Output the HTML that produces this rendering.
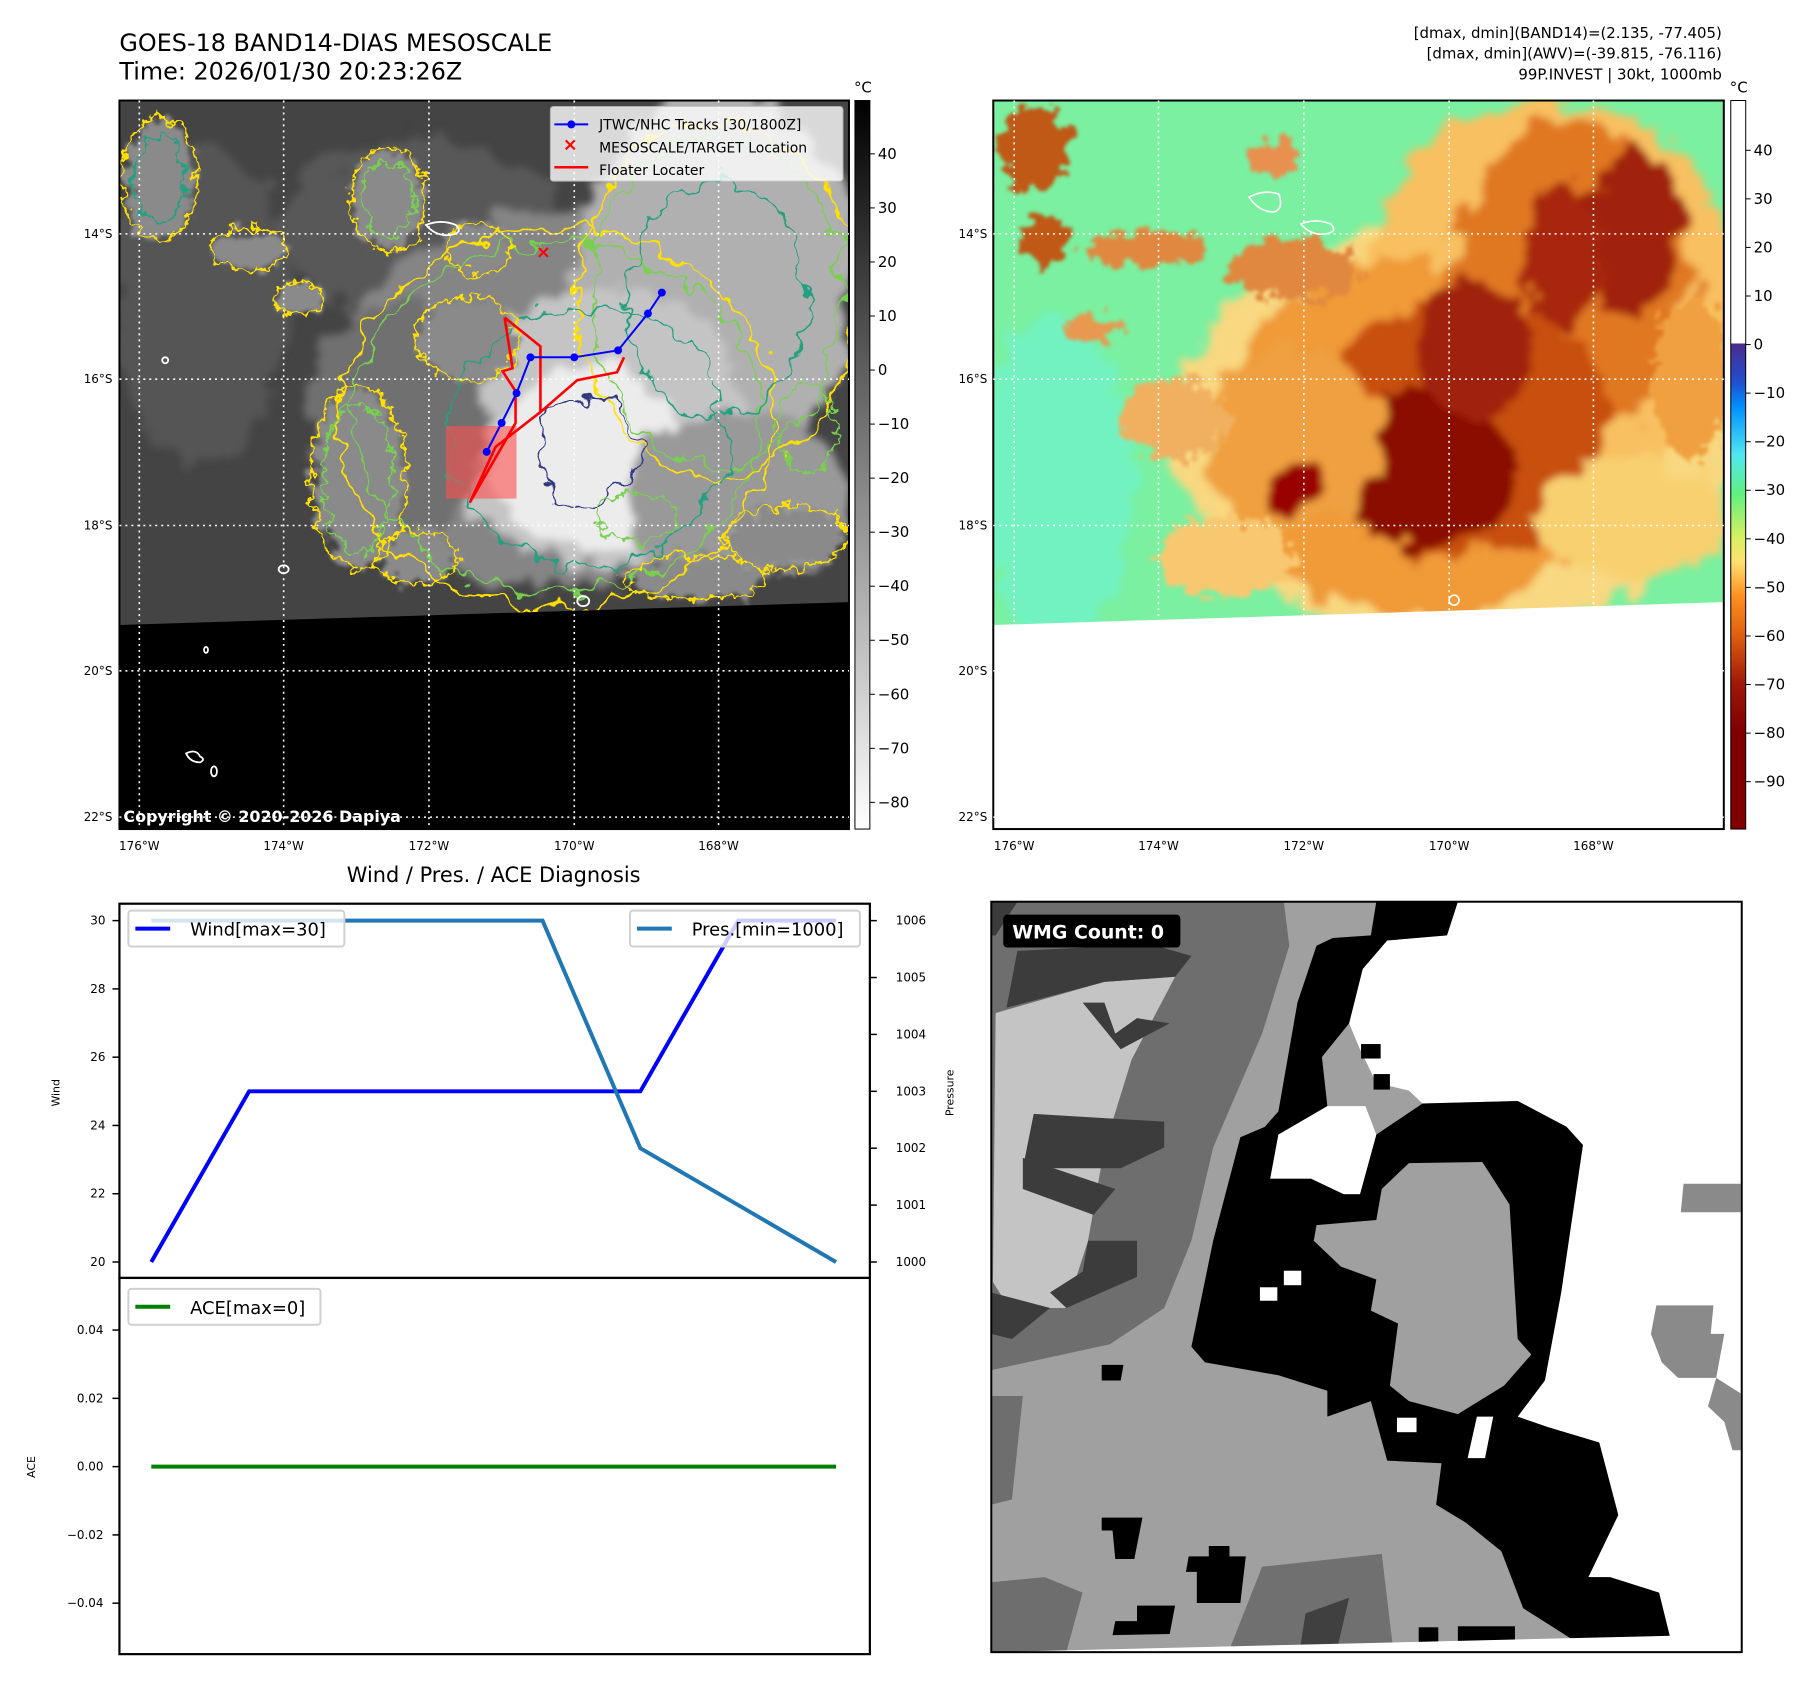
<!DOCTYPE html>
<html><head><meta charset="utf-8">
<style>
html,body{margin:0;padding:0;background:#fff;}
svg{display:block;font-family:"DejaVu Sans","Liberation Sans",sans-serif;}
</style></head>
<body>
<svg id="root" width="1813" height="1690" viewBox="0 0 1813 1690">
<defs>
  <filter id="wig" x="-20%" y="-20%" width="140%" height="140%">
    <feTurbulence type="fractalNoise" baseFrequency="0.035" numOctaves="3" seed="4" result="n"/>
    <feDisplacementMap in="SourceGraphic" in2="n" scale="38" xChannelSelector="R" yChannelSelector="G"/>
  </filter>
  <filter id="wig2" x="-50%" y="-50%" width="200%" height="200%">
    <feTurbulence type="fractalNoise" baseFrequency="0.08" numOctaves="3" seed="7" result="n"/>
    <feDisplacementMap in="SourceGraphic" in2="n" scale="22" xChannelSelector="R" yChannelSelector="G"/>
  </filter>
  <filter id="cloud" x="-20%" y="-20%" width="140%" height="140%">
    <feTurbulence type="fractalNoise" baseFrequency="0.03" numOctaves="4" seed="9" result="n"/>
    <feDisplacementMap in="SourceGraphic" in2="n" scale="50" xChannelSelector="R" yChannelSelector="G" result="d"/>
    <feGaussianBlur in="d" stdDeviation="4"/>
  </filter>
  <filter id="fine" x="-30%" y="-30%" width="160%" height="160%">
    <feTurbulence type="fractalNoise" baseFrequency="0.07" numOctaves="4" seed="3" result="n"/>
    <feDisplacementMap in="SourceGraphic" in2="n" scale="35" xChannelSelector="R" yChannelSelector="G" result="d"/>
    <feGaussianBlur in="d" stdDeviation="2"/>
  </filter>
  <linearGradient id="cb1" x1="0" y1="0" x2="0" y2="1">
    <stop offset="0" stop-color="#000"/><stop offset="1" stop-color="#fff"/>
  </linearGradient>
  <linearGradient id="cb2" x1="0" y1="0" x2="0" y2="1">
    <stop offset="0" stop-color="#fff"/><stop offset="0.333" stop-color="#fff"/>
    <stop offset="0.334" stop-color="#4b2a8c"/><stop offset="0.387" stop-color="#2050d0"/>
    <stop offset="0.42" stop-color="#0090ff"/><stop offset="0.487" stop-color="#50e8f0"/>
    <stop offset="0.54" stop-color="#60f080"/><stop offset="0.6" stop-color="#d8f060"/>
    <stop offset="0.633" stop-color="#ffe070"/><stop offset="0.68" stop-color="#ff9020"/>
    <stop offset="0.733" stop-color="#e06010"/><stop offset="0.8" stop-color="#a01808"/>
    <stop offset="0.866" stop-color="#800000"/><stop offset="1" stop-color="#800000"/>
  </linearGradient>
  <clipPath id="m1"><rect x="120" y="101" width="733" height="732"/></clipPath>
  <clipPath id="m2"><rect x="998" y="101" width="734" height="732"/></clipPath>
  <clipPath id="m3"><rect x="996" y="906" width="754" height="754"/></clipPath>
</defs>
<g transform="scale(0.99527)">
<!-- titles -->
<text x="120" y="51" font-size="24">GOES-18 BAND14-DIAS MESOSCALE</text>
<text x="120" y="80" font-size="24">Time: 2026/01/30 20:23:26Z</text>
<g font-size="15" text-anchor="end">
  <text x="1730" y="38">[dmax, dmin](BAND14)=(2.135, -77.405)</text>
  <text x="1730" y="59">[dmax, dmin](AWV)=(-39.815, -76.116)</text>
  <text x="1730" y="80">99P.INVEST | 30kt, 1000mb</text>
</g>

<!-- MAP 1 -->
<g clip-path="url(#m1)">
  <rect x="120" y="101" width="733" height="732" fill="#444"/>
  <g filter="url(#cloud)">
    <ellipse cx="200" cy="300" rx="90" ry="160" fill="#555"/>
    <ellipse cx="420" cy="230" rx="140" ry="90" fill="#585858"/>
    <ellipse cx="560" cy="400" rx="230" ry="190" fill="#858585"/>
    <ellipse cx="720" cy="280" rx="140" ry="190" fill="#b0b0b0"/>
    <ellipse cx="600" cy="430" rx="150" ry="140" fill="#c4c4c4"/>
    <ellipse cx="590" cy="460" rx="95" ry="95" fill="#ececec"/>
    <ellipse cx="740" cy="500" rx="110" ry="90" fill="#999"/>
    <ellipse cx="400" cy="420" rx="90" ry="120" fill="#707070"/>
  </g>
  <g filter="url(#fine)" fill="#8a8a8a">
    <ellipse cx="160" cy="180" rx="35" ry="60"/>
    <ellipse cx="390" cy="200" rx="35" ry="50"/>
    <ellipse cx="250" cy="250" rx="35" ry="20"/>
    <ellipse cx="300" cy="300" rx="25" ry="15"/>
    <ellipse cx="360" cy="480" rx="45" ry="90"/>
    <ellipse cx="420" cy="560" rx="40" ry="25"/>
    <ellipse cx="470" cy="340" rx="50" ry="40"/>
    <ellipse cx="480" cy="250" rx="30" ry="25"/>
    <ellipse cx="790" cy="540" rx="60" ry="30"/>
    <ellipse cx="700" cy="580" rx="70" ry="20"/>
  </g>
  <g fill="none" filter="url(#wig)">
    <ellipse cx="560" cy="420" rx="220" ry="190" stroke="#ffe000" stroke-width="2.5"/>
    <ellipse cx="560" cy="420" rx="205" ry="175" stroke="#78d050" stroke-width="2"/>
    <ellipse cx="720" cy="300" rx="140" ry="180" stroke="#ffe000" stroke-width="2.5"/>
    <ellipse cx="720" cy="300" rx="125" ry="165" stroke="#78d050" stroke-width="2"/>
    <ellipse cx="590" cy="440" rx="140" ry="130" stroke="#20a080" stroke-width="2"/>
    <ellipse cx="590" cy="455" rx="50" ry="55" stroke="#303880" stroke-width="2"/>
    <ellipse cx="720" cy="300" rx="90" ry="120" stroke="#20a080" stroke-width="2"/>
  </g>
  <g fill="none" filter="url(#wig2)" stroke-width="2.2">
    <ellipse cx="160" cy="180" rx="38" ry="62" stroke="#ffe000"/>
    <ellipse cx="160" cy="180" rx="25" ry="45" stroke="#20a080"/>
    <ellipse cx="390" cy="200" rx="38" ry="52" stroke="#ffe000"/>
    <ellipse cx="390" cy="200" rx="25" ry="38" stroke="#78d050"/>
    <ellipse cx="250" cy="250" rx="38" ry="22" stroke="#ffe000"/>
    <ellipse cx="300" cy="300" rx="25" ry="15" stroke="#ffe000"/>
    <ellipse cx="360" cy="480" rx="48" ry="92" stroke="#ffe000"/>
    <ellipse cx="360" cy="480" rx="35" ry="75" stroke="#78d050"/>
    <ellipse cx="420" cy="560" rx="42" ry="26" stroke="#ffe000"/>
    <ellipse cx="470" cy="340" rx="52" ry="42" stroke="#ffe000"/>
    <ellipse cx="480" cy="250" rx="32" ry="26" stroke="#ffe000"/>
    <ellipse cx="790" cy="540" rx="62" ry="32" stroke="#ffe000"/>
    <ellipse cx="700" cy="580" rx="72" ry="22" stroke="#ffe000"/>
    <ellipse cx="640" cy="520" rx="40" ry="25" stroke="#78d050"/>
    <ellipse cx="810" cy="430" rx="30" ry="45" stroke="#78d050"/>
  </g>
  <polygon points="120,628 853,605 853,833 120,833" fill="#000"/>
  <g fill="none" stroke="#fff" stroke-width="1.8">
    <path d="M428,226 q15,-6 30,0 q8,8 -5,10 q-15,2 -25,-10z"/>
    <ellipse cx="166" cy="362" rx="3" ry="3"/>
    <ellipse cx="285" cy="572" rx="5" ry="4"/>
    <ellipse cx="207" cy="653" rx="2" ry="3"/>
    <path d="M187,757 q10,-5 14,3 q6,3 0,6 q-10,0 -14,-9z"/>
    <ellipse cx="215" cy="775" rx="3" ry="5"/>
    <ellipse cx="586" cy="604" rx="6" ry="5"/>
  </g>
  <rect x="448" y="428" width="71" height="73" fill="#ff5050" opacity="0.6"/>
</g>
<rect x="120" y="101" width="733" height="732" fill="none" stroke="#000" stroke-width="2"/>
<g stroke="#fff" stroke-width="1.6" stroke-dasharray="2,4">
  <line x1="140" y1="101" x2="140" y2="833"/><line x1="285" y1="101" x2="285" y2="833"/>
  <line x1="431" y1="101" x2="431" y2="833"/><line x1="577" y1="101" x2="577" y2="833"/>
  <line x1="722" y1="101" x2="722" y2="833"/>
  <line x1="120" y1="235" x2="853" y2="235"/><line x1="120" y1="381" x2="853" y2="381"/>
  <line x1="120" y1="528" x2="853" y2="528"/><line x1="120" y1="674" x2="853" y2="674"/>
  <line x1="120" y1="821" x2="853" y2="821"/>
</g>
<g fill="none" stroke="#f00" stroke-width="2.6">
  <polyline points="507,319 543,348 543,414 580,382 620,374 627,359"/>
  <polyline points="507,319 515,370 505,373 518,393 518,425 472,505 498,449 543,414"/>
</g>
<g>
  <polyline points="665,294 651,315 621,352 577,359 533,359 519,395 504,425 489,454" fill="none" stroke="#00f" stroke-width="2"/>
  <g fill="#00f"><circle cx="665" cy="294" r="4"/><circle cx="651" cy="315" r="4"/><circle cx="621" cy="352" r="4"/><circle cx="577" cy="359" r="4"/><circle cx="533" cy="359" r="4"/><circle cx="519" cy="395" r="4"/><circle cx="504" cy="425" r="4"/><circle cx="489" cy="454" r="4"/></g>
</g>
<text x="546" y="259" font-size="18" font-weight="bold" fill="#f00" text-anchor="middle">×</text>
<g>
  <rect x="553" y="107" width="294" height="75" rx="3" fill="#fff" opacity="0.8" stroke="#ccc"/>
  <line x1="557" y1="125" x2="591" y2="125" stroke="#00f" stroke-width="2"/><circle cx="574" cy="125" r="4" fill="#00f"/>
  <text x="573" y="151" font-size="18" font-weight="bold" fill="#f00" text-anchor="middle">×</text>
  <line x1="557" y1="168" x2="591" y2="168" stroke="#f00" stroke-width="2.5"/>
  <g font-size="14"><text x="602" y="130">JTWC/NHC Tracks [30/1800Z]</text><text x="602" y="153">MESOSCALE/TARGET Location</text><text x="602" y="176">Floater Locater</text></g>
</g>
<text x="124" y="826" font-size="16" font-weight="bold" fill="#fff">Copyright © 2020-2026 Dapiya</text>
<g font-size="12" text-anchor="end">
  <text x="113" y="239">14°S</text><text x="113" y="385">16°S</text><text x="113" y="532">18°S</text><text x="113" y="678">20°S</text><text x="113" y="825">22°S</text>
</g>
<g font-size="12" text-anchor="middle">
  <text x="140" y="854">176°W</text><text x="285" y="854">174°W</text><text x="431" y="854">172°W</text><text x="577" y="854">170°W</text><text x="722" y="854">168°W</text>
</g>
<g>
  <rect x="859" y="101" width="15" height="732" fill="url(#cb1)" stroke="#000" stroke-width="1"/>
  <text x="867" y="93" font-size="15" text-anchor="middle">°C</text>
  <g font-size="15" id="cb1t"></g>
</g>

<!-- MAP 2 -->
<g clip-path="url(#m2)">
  <rect x="998" y="101" width="734" height="732" fill="#7af0a0"/>
  <ellipse cx="1060" cy="480" rx="80" ry="160" fill="#72f2c0" filter="url(#cloud)"/>
  <g filter="url(#cloud)">
    <ellipse cx="1460" cy="430" rx="280" ry="210" fill="#f8d880"/>
    <ellipse cx="1560" cy="300" rx="190" ry="200" fill="#f8c060"/>
    <ellipse cx="1420" cy="440" rx="200" ry="180" fill="#f09a38"/>
    <ellipse cx="1580" cy="280" rx="120" ry="160" fill="#e07820"/>
    <ellipse cx="1470" cy="430" rx="150" ry="130" fill="#c85010"/>
    <ellipse cx="1430" cy="470" rx="95" ry="80" fill="#8a0800"/>
    <ellipse cx="1480" cy="350" rx="60" ry="70" fill="#a02008"/>
    <ellipse cx="1640" cy="230" rx="50" ry="80" fill="#a02008"/>
    <ellipse cx="1570" cy="260" rx="40" ry="70" fill="#a82808"/>
    <ellipse cx="1300" cy="440" rx="90" ry="90" fill="#f0a040"/>
    <ellipse cx="1300" cy="490" rx="26" ry="24" fill="#900"/>
    <ellipse cx="1640" cy="520" rx="100" ry="60" fill="#f8d070"/>
  </g>
  <g filter="url(#fine)">
    <ellipse cx="1040" cy="150" rx="35" ry="45" fill="#c05818"/>
    <ellipse cx="1050" cy="240" rx="25" ry="25" fill="#c05818"/>
    <ellipse cx="1150" cy="250" rx="60" ry="18" fill="#e08840"/>
    <ellipse cx="1100" cy="330" rx="30" ry="12" fill="#e89850"/>
    <ellipse cx="1300" cy="270" rx="65" ry="32" fill="#e08840"/>
    <ellipse cx="1280" cy="160" rx="30" ry="18" fill="#e89050"/>
    <ellipse cx="1180" cy="420" rx="55" ry="40" fill="#f0b060"/>
    <ellipse cx="1230" cy="560" rx="70" ry="40" fill="#f8c870"/>
    <ellipse cx="1700" cy="380" rx="40" ry="80" fill="#f0a040"/>
  </g>
  <polygon points="998,628 1732,605 1732,833 998,833" fill="#fff"/>
  <g fill="none" stroke="#fff" stroke-width="1.6">
    <path d="M1255,198 q15,-8 30,-3 q5,15 -5,18 q-15,0 -25,-15z"/>
    <path d="M1307,225 q15,-6 30,0 q8,8 -5,10 q-15,2 -25,-10z"/>
    <ellipse cx="1461" cy="603" rx="5" ry="5"/>
  </g>
</g>
<rect x="998" y="101" width="734" height="732" fill="none" stroke="#000" stroke-width="2"/>
<g stroke="#fff" stroke-width="1.6" stroke-dasharray="2,4">
  <line x1="1019" y1="101" x2="1019" y2="833"/><line x1="1164" y1="101" x2="1164" y2="833"/>
  <line x1="1310" y1="101" x2="1310" y2="833"/><line x1="1456" y1="101" x2="1456" y2="833"/>
  <line x1="1601" y1="101" x2="1601" y2="833"/>
  <line x1="998" y1="235" x2="1732" y2="235"/><line x1="998" y1="381" x2="1732" y2="381"/>
  <line x1="998" y1="528" x2="1732" y2="528"/><line x1="998" y1="674" x2="1732" y2="674"/>
  <line x1="998" y1="821" x2="1732" y2="821"/>
</g>
<g font-size="12" text-anchor="end">
  <text x="992" y="239">14°S</text><text x="992" y="385">16°S</text><text x="992" y="532">18°S</text><text x="992" y="678">20°S</text><text x="992" y="825">22°S</text>
</g>
<g font-size="12" text-anchor="middle">
  <text x="1019" y="854">176°W</text><text x="1164" y="854">174°W</text><text x="1310" y="854">172°W</text><text x="1456" y="854">170°W</text><text x="1601" y="854">168°W</text>
</g>
<g>
  <rect x="1739" y="101" width="15" height="732" fill="url(#cb2)" stroke="#000" stroke-width="1"/>
  <text x="1747" y="93" font-size="15" text-anchor="middle">°C</text>
  <g font-size="15" id="cb2t"></g>
</g>

<!-- CHART -->
<text x="496" y="886" font-size="21" text-anchor="middle">Wind / Pres. / ACE Diagnosis</text>
<g id="chart"></g>

<!-- WMG panel -->
<g clip-path="url(#m3)">
<svg x="996" y="906" width="754" height="754" viewBox="62 45 1380 1450" preserveAspectRatio="none">
  <rect x="62" y="45" width="1380" height="1450" fill="#a0a0a0"/>
  <polygon points="62,45 600,45 610,130 560,300 470,520 430,700 380,830 280,900 62,950" fill="#6e6e6e"/>
  <polygon points="62,950 62,1000 120,1000 100,1200 62,1210" fill="#6e6e6e"/>
  <polygon points="62,1360 160,1350 230,1380 200,1495 62,1495" fill="#6e6e6e"/>
  <polygon points="560,1330 780,1305 800,1480 500,1490" fill="#707070"/>
  <polygon points="640,1420 720,1390 700,1480 630,1485" fill="#404040"/>
  <polygon points="70,260 270,200 400,190 320,350 270,520 240,700 200,830 95,830 65,780" fill="#c4c4c4"/>
  <polygon points="110,140 300,130 300,110 430,150 400,190 270,200 90,250" fill="#3c3c3c"/>
  <polygon points="230,240 270,240 290,300 330,270 390,280 300,330" fill="#3c3c3c"/>
  <polygon points="140,455 380,470 380,520 300,560 120,560" fill="#3c3c3c"/>
  <polygon points="120,540 290,600 250,650 120,600" fill="#3c3c3c"/>
  <polygon points="240,700 330,700 330,770 200,830 170,800 230,760" fill="#3c3c3c"/>
  <polygon points="62,800 170,830 100,890 62,880" fill="#3c3c3c"/>
  <polygon points="265,940 305,940 300,970 265,970" fill="#000"/>
  <polygon points="62,45 110,45 70,110 62,110" fill="#3c3c3c"/>
  <polygon points="920,45 1442,45 1442,1495 1310,1465 1290,1380 1200,1350 1160,1350 1215,1230 1180,1090 1085,1060 1030,1040 1080,970 1110,800 1150,515 1120,480 1030,430 855,435 830,410 770,395 740,330 720,280 745,175 790,120 900,110" fill="#fff"/>
  <polygon points="770,45 920,45 900,110 790,120 745,175 720,280 670,345 680,440 590,495 575,580 650,580 710,610 740,610 770,495 855,435 1030,430 1120,480 1150,515 1110,800 1080,970 1030,1040 1085,1060 1180,1090 1215,1230 1160,1350 1200,1350 1290,1380 1310,1465 1130,1470 1040,1410 1000,1300 935,1245 880,1210 890,1130 790,1125 760,1010 680,1040 680,990 590,960 455,935 430,905 470,700 520,500 565,480 590,450 625,240 660,130 690,115 760,110" fill="#000"/>
  <polygon points="590,495 680,440 750,440 770,495 740,610 710,610 650,580 575,580" fill="#fff"/>
  <polygon points="830,550 965,548 1015,630 1030,890 1055,920 1005,980 920,1035 830,1010 795,980 810,860 760,835 770,775 705,750 655,700 660,670 770,660 780,600" fill="#a0a0a0"/>
  <rect x="600" y="758" width="32" height="28" fill="#fff"/><rect x="556" y="790" width="32" height="26" fill="#fff"/>
  <rect x="808" y="1042" width="36" height="28" fill="#fff"/><polygon points="955,1040 985,1040 970,1120 938,1120" fill="#fff"/>
  <rect x="742" y="320" width="36" height="28" fill="#000"/><rect x="765" y="378" width="30" height="30" fill="#000"/>
  <polygon points="265,1235 340,1235 325,1315 290,1315 285,1260 265,1260" fill="#000"/>
  <polygon points="462,1290 500,1290 500,1310 530,1310 520,1400 440,1400 440,1340 420,1340 425,1310 462,1310" fill="#000"/>
  <polygon points="330,1405 400,1405 390,1460 285,1462 290,1435 330,1435" fill="#000"/>
  <rect x="848" y="1447" width="36" height="30" fill="#000"/>
  <rect x="920" y="1445" width="105" height="30" fill="#000"/>
  <polygon points="1335,590 1440,590 1440,645 1330,645" fill="#8a8a8a"/>
  <polygon points="1285,825 1390,825 1385,880 1410,880 1395,965 1325,965 1295,935 1275,880" fill="#8a8a8a"/>
  <polygon points="1395,965 1440,995 1440,1105 1425,1105 1410,1050 1380,1020" fill="#8a8a8a"/>
  <polygon points="62,1495 1442,1460 1442,1495" fill="#fff"/>
</svg>
</g>
<rect x="996" y="906" width="754" height="754" fill="none" stroke="#000" stroke-width="2"/>
<g>
  <rect x="1008" y="919" width="178" height="33" rx="4" fill="#000"/>
  <text x="1017" y="943" font-size="19" font-weight="bold" fill="#fff">WMG Count: 0</text>
</g>
</g>

<script>
// ---- chart data ----
var times = [0,1,2,3,4,5,6,7];
var windVals = [20,25,25,25,25,25,30,30];
var presVals = [1006,1006,1006,1006,1006,1002,1001,1000];
var aceVals = [0,0,0,0,0,0,0,0];
var windTicks = [20,22,24,26,28,30];
var presTicks = [1000,1001,1002,1003,1004,1005,1006];
var aceTicks = [-0.04,-0.02,0.00,0.02,0.04];
var cb1Ticks = [40,30,20,10,0,-10,-20,-30,-40,-50,-60,-70,-80];
var cb2Ticks = [40,30,20,10,0,-10,-20,-30,-40,-50,-60,-70,-80,-90];

var NS = 'http://www.w3.org/2000/svg';
function mk(tag, attrs, parent){ var e=document.createElementNS(NS,tag); for(var k in attrs) e.setAttribute(k,attrs[k]); parent.appendChild(e); return e; }
function fmt(v){ var s=v.toFixed(2); return v<0 ? '\u2212'+Math.abs(v).toFixed(2) : s; }
function neg(v){ return v<0 ? '\u2212'+Math.abs(v) : ''+v; }

var cb1y = function(v){ return 154.6 + (40-v)*5.43; };
var g1 = document.getElementById('cb1t');
cb1Ticks.forEach(function(v){
  var l=mk('line',{x1:874,x2:879,y1:cb1y(v),y2:cb1y(v),stroke:'#000','stroke-width':1},g1);
  
  
  var t=mk('text',{x:882,y:cb1y(v)+5},g1); t.textContent=neg(v);
  
  
});
var cb2y = function(v){ return 151 + (40-v)*4.88; };
var g2 = document.getElementById('cb2t');
cb2Ticks.forEach(function(v){
  var l=mk('line',{x1:1754,x2:1759,y1:cb2y(v),y2:cb2y(v),stroke:'#000','stroke-width':1},g2);
  
  
  var t=mk('text',{x:1762,y:cb2y(v)+5},g2); t.textContent=neg(v);
  
  
});

var L=120, R=874, T=908, M=1284, B=1662;
function xS(i){ return 152 + i*(840-152)/7; }
function yW(v){ return 1268 - (v-20)/10*343; }
function yP(v){ return 1268 - (v-1000)/6*343; }
function yA(v){ return 1473.6 - v/0.02*68.6; }
var C = document.getElementById('chart');

var f1=mk('rect',{x:L,y:T,width:R-L,height:M-T,fill:'none',stroke:'#000','stroke-width':2.2},C);


var f2=mk('rect',{x:L,y:M,width:R-L,height:B-M,fill:'none',stroke:'#000','stroke-width':2.2},C);



windTicks.forEach(function(v){
  var y=yW(v);
  var l=mk('line',{x1:L-7,x2:L,y1:y,y2:y,stroke:'#000','stroke-width':1.5},C);
  
  
  var t=mk('text',{x:L-14,y:y+4,'font-size':12,'text-anchor':'end'},C); t.textContent=v;
  
  
});
presTicks.forEach(function(v){
  var y=yP(v);
  var l=mk('line',{x1:R,x2:R+7,y1:y,y2:y,stroke:'#000','stroke-width':1.5},C);
  
  
  var t=mk('text',{x:R+26,y:y+4,'font-size':12},C); t.textContent=v;
  
  
});
aceTicks.forEach(function(v){
  var y=yA(v);
  var l=mk('line',{x1:L-7,x2:L,y1:y,y2:y,stroke:'#000','stroke-width':1.5},C);
  
  
  var t=mk('text',{x:L-16,y:y+4,'font-size':12,'text-anchor':'end'},C); t.textContent=fmt(v);
  
  
});

var yt1=mk('text',{x:0,y:0,'font-size':11,'text-anchor':'middle',transform:'translate(60,1098) rotate(-90)'},C); yt1.textContent='Wind';


var yt2=mk('text',{x:0,y:0,'font-size':11,'text-anchor':'middle',transform:'translate(958,1098) rotate(-90)'},C); yt2.textContent='Pressure';


var yt3=mk('text',{x:0,y:0,'font-size':11,'text-anchor':'middle',transform:'translate(35,1474) rotate(-90)'},C); yt3.textContent='ACE';



function pts(arr, yf){ return arr.map(function(v,i){ return xS(times[i]).toFixed(1)+','+yf(v).toFixed(1); }).join(' '); }
var wl=mk('polyline',{points:pts(windVals,yW),fill:'none',stroke:'#0000ff','stroke-width':4},C);


var pl=mk('polyline',{points:pts(presVals,yP),fill:'none',stroke:'#1f77b4','stroke-width':4},C);


var al=mk('polyline',{points:pts(aceVals,yA),fill:'none',stroke:'#008000','stroke-width':4},C);



function legend(x,y,w,color,label,name){
  var g=mk('g',{},C);
  
  
  mk('rect',{x:x,y:y,width:w,height:36,rx:3,fill:'#fff','fill-opacity':0.8,stroke:'#d0d0d0','stroke-width':2},g);
  mk('line',{x1:x+7,x2:x+42,y1:y+18,y2:y+18,stroke:color,'stroke-width':4},g);
  var t=mk('text',{x:x+62,y:y+25,'font-size':18},g); t.textContent=label;
}
legend(129,915,217,'#0000ff','Wind[max=30]','wind-legend');
legend(633,915,231,'#1f77b4','Pres.[min=1000]','pressure-legend');
legend(129,1295,193,'#008000','ACE[max=0]','ace-legend');
</script>
</svg>
</body></html>
